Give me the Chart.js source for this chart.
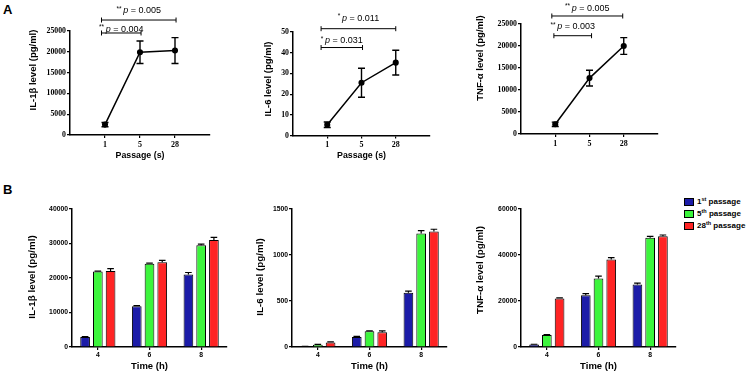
<!DOCTYPE html>
<html>
<head>
<meta charset="utf-8">
<script src="https://cdn.jsdelivr.net/npm/chart.js"></script>
<style>
    body { margin: 0; background: #fff; width: 755px; height: 374px; position: relative; overflow: hidden;
           font-family: "Liberation Sans", Arial, sans-serif; }
    .panel { position: absolute; }
    .letter { position: absolute; font-weight: bold; font-size: 13px; line-height: 13px; }
    #legend { position: absolute; left: 684px; top: 197px; font-weight: bold; font-size: 8px; }
    #legend div { height: 12px; line-height: 9px; white-space: nowrap; }
    #legend span.box { display: inline-block; width: 8px; height: 6px; border: 1px solid #000;
                       vertical-align: middle; margin-right: 3px; }
    #legend sup { font-size: 5.5px; vertical-align: 3px; line-height: 0; }
</style>
</head>
<body>
<div class="letter" style="left:3px; top:3px;">A</div>
<div class="letter" style="left:3px; top:183px;">B</div>
<div class="panel" id="boxA1"><canvas id="chartA1"></canvas></div>
<div class="panel" id="boxA2"><canvas id="chartA2"></canvas></div>
<div class="panel" id="boxA3"><canvas id="chartA3"></canvas></div>
<div class="panel" id="boxB1"><canvas id="chartB1"></canvas></div>
<div class="panel" id="boxB2"><canvas id="chartB2"></canvas></div>
<div class="panel" id="boxB3"><canvas id="chartB3"></canvas></div>
<div id="legend"></div>
<script>
// ---- panel A data: cytokine level vs passage ----
const passageTicks = ['1', '5', '28'];
const passageSlots = [1, 2, 3];

const il1bMean = [2500, 19900, 20300];
const il1bSem = [500, 2700, 3100];
const il6Mean = [5.2, 25.5, 35.2];
const il6Sem = [1.3, 7, 6];
const tnfMean = [2200, 12700, 20000];
const tnfSem = [500, 1800, 1900];

// significance (index into passageTicks)
const il1bSig = [{ from: 0, to: 1, stars: '**', p: '0.004' }, { from: 0, to: 2, stars: '**', p: '0.005' }];
const il6Sig = [{ from: 0, to: 1, stars: '*', p: '0.031' }, { from: 0, to: 2, stars: '*', p: '0.011' }];
const tnfSig = [{ from: 0, to: 1, stars: '**', p: '0.003' }, { from: 0, to: 2, stars: '**', p: '0.005' }];

// ---- panel B data: cytokine level vs time, per passage ----
const timeTicks = ['4', '6', '8'];
const passageOrdinal = ['1', '5', '28'];
const ordinalSuffix = ['st', 'th', 'th'];

const il1bP1 = [2900, 11800, 21000];
const il1bP5 = [21900, 24100, 29500];
const il1bP28 = [22000, 24600, 31000];
const il1bP1Sem = [150, 200, 600];
const il1bP5Sem = [100, 200, 300];
const il1bP28Sem = [700, 500, 800];

const il6P1 = [5, 110, 590];
const il6P5 = [25, 170, 1235];
const il6P28 = [50, 160, 1255];
const il6P1Sem = [2, 5, 18];
const il6P5Sem = [3, 6, 30];
const il6P28Sem = [5, 15, 25];

const tnfP1 = [1100, 22500, 27200];
const tnfP5 = [5200, 29800, 47500];
const tnfP28 = [21100, 38000, 48100];
const tnfP1Sem = [100, 700, 600];
const tnfP5Sem = [150, 1000, 600];
const tnfP28Sem = [250, 900, 600];

const barColors = ['#1c1ca8', '#3cf53c', '#ff2424'];

const serif = '"Liberation Serif", "Times New Roman", serif';
const sans = '"Liberation Sans", Arial, sans-serif';

// error bars drawn from dataset.errors through the y scale
const errorBars = {
    id: 'errorBars',
    afterDatasetsDraw(chart, args, opts) {
        const ctx = chart.ctx;
        const y = chart.scales.y;
        chart.data.datasets.forEach((ds, i) => {
            if(!ds.errors) return;
            chart.getDatasetMeta(i).data.forEach((el, j) => {
                const v = typeof ds.data[j] === 'object' ? ds.data[j].y : ds.data[j];
                const top = y.getPixelForValue(v + ds.errors[j]);
                const bot = opts.both ? y.getPixelForValue(v - ds.errors[j]) : el.y;
                ctx.save();
                ctx.strokeStyle = '#000';
                ctx.lineWidth = opts.width;
                ctx.beginPath();
                ctx.moveTo(el.x, bot); ctx.lineTo(el.x, top);
                ctx.moveTo(el.x - opts.cap, top); ctx.lineTo(el.x + opts.cap, top);
                if(opts.both) { ctx.moveTo(el.x - opts.cap, bot); ctx.lineTo(el.x + opts.cap, bot); }
                ctx.stroke();
                ctx.restore();
            });
        });
    }
};

// significance brackets above the line charts
const brackets = {
    id: 'brackets',
    afterDraw(chart, args, opts) {
        if(!opts.items) return;
        const { ctx, scales: { x, y } } = chart;
        opts.items.forEach(b => {
            const x0 = x.getPixelForValue(b.x0), x1 = x.getPixelForValue(b.x1);
            const py = y.getPixelForValue(b.y);
            ctx.save();
            ctx.strokeStyle = '#000';
            ctx.lineWidth = 1;
            ctx.beginPath();
            ctx.moveTo(x0, py); ctx.lineTo(x1, py);
            ctx.moveTo(x0, py - 2.5); ctx.lineTo(x0, py + 2.5);
            ctx.moveTo(x1, py - 2.5); ctx.lineTo(x1, py + 2.5);
            ctx.stroke();

            const starFont = '6.5px ' + sans, pFont = 'italic 9px ' + sans, restFont = '9px ' + sans;
            const rest = ' = ' + b.p;
            ctx.font = starFont; const ws = ctx.measureText(b.stars + ' ').width;
            ctx.font = pFont; const wp = ctx.measureText('p').width;
            ctx.font = restFont; const wr = ctx.measureText(rest).width;
            let tx = (x0 + x1) / 2 - (ws + wp + wr) / 2;
            const base = py - b.gap;
            ctx.fillStyle = '#000';
            ctx.textBaseline = 'alphabetic';
            ctx.textAlign = 'left';
            ctx.font = starFont; ctx.fillText(b.stars, tx, base - 2.5); tx += ws;
            ctx.font = pFont; ctx.fillText('p', tx, base); tx += wp;
            ctx.font = restFont; ctx.fillText(rest, tx, base);
            ctx.restore();
        });
    }
};

// axis titles at fixed spots (GraphPad style)
const axisTitles = {
    id: 'axisTitles',
    afterDraw(chart, args, opts) {
        const ctx = chart.ctx, a = chart.chartArea;
        ctx.save();
        ctx.fillStyle = '#000';
        ctx.textAlign = 'center';
        ctx.textBaseline = 'middle';
        if(opts.x) {
            ctx.font = 'bold ' + opts.x.size + 'px ' + sans;
            ctx.fillText(opts.x.text, (a.left + a.right) / 2, opts.x.y);
        }
        if(opts.y) {
            ctx.font = 'bold ' + opts.y.size + 'px ' + sans;
            ctx.translate(opts.y.x, opts.y.y);
            ctx.rotate(-Math.PI / 2);
            ctx.fillText(opts.y.text, 0, 0);
        }
        ctx.restore();
    }
};

function placeBox(id, box) {
    const el = document.getElementById(id);
    el.style.left = box.l + 'px';
    el.style.top = box.t + 'px';
    el.style.width = box.w + 'px';
    el.style.height = box.h + 'px';
}

function axisStyle() {
    return {
        grid: { drawOnChartArea: false, drawTicks: true, tickLength: 3, color: '#000', lineWidth: 1.2 },
        border: { display: true, color: '#000', width: 1.5 }
    };
}

function makeLineChart(n, box, area, mean, sem, sig, geo, yMax, yStep, yTitle, xTitle) {
    placeBox('box' + n, box);
    const items = sig.map((s, i) => ({
        x0: passageSlots[s.from] - geo[i].padL,
        x1: passageSlots[s.to] + geo[i].padR,
        y: geo[i].y, gap: geo[i].gap, stars: s.stars, p: s.p
    }));
    new Chart(document.getElementById('chart' + n), {
        type: 'line',
        data: {
            datasets: [{
                data: passageSlots.map((p, i) => ({ x: p, y: mean[i] })),
                errors: sem,
                borderColor: '#000', borderWidth: 1.5,
                pointRadius: 2.3, pointBackgroundColor: '#000', pointBorderColor: '#000',
                tension: 0
            }]
        },
        options: {
            responsive: true, maintainAspectRatio: false, animation: false,
            layout: { padding: { left: 0, top: area.t - box.t, right: box.l + box.w - area.r, bottom: 0 } },
            scales: {
                x: {
                    type: 'linear', min: 0, max: 4, ...axisStyle(),
                    afterBuildTicks: s => { s.ticks = passageSlots.map(v => ({ value: v })); },
                    afterFit: s => { s.height = box.t + box.h - area.b; },
                    ticks: { autoSkip: false, padding: 2, color: '#000',
                             font: { family: serif, size: 8, weight: 'bold' },
                             callback: (v, i) => passageTicks[i] }
                },
                y: {
                    min: 0, max: yMax, ...axisStyle(),
                    afterFit: s => { s.width = area.l - box.l; },
                    ticks: { stepSize: yStep, padding: 1, color: '#000',
                             font: { family: serif, size: 7.8, weight: 'bold' },
                             callback: v => String(v) }
                }
            },
            plugins: {
                legend: { display: false }, tooltip: { enabled: false },
                errorBars: { both: true, cap: 3.5, width: 1.4 },
                brackets: { items: items },
                axisTitles: {
                    y: { text: yTitle.text, x: yTitle.x - box.l, y: yTitle.y - box.t, size: 9.5 },
                    x: xTitle ? { text: xTitle.text, y: xTitle.y - box.t, size: 8.8 } : null
                }
            }
        },
        plugins: [errorBars, brackets, axisTitles]
    });
}

function makeBarChart(n, box, area, series, sems, yMax, yStep, yTitle) {
    placeBox('box' + n, box);
    new Chart(document.getElementById('chart' + n), {
        type: 'bar',
        data: {
            labels: timeTicks,
            datasets: series.map((s, i) => ({
                label: passageOrdinal[i] + ordinalSuffix[i] + ' passage',
                data: s, errors: sems[i],
                backgroundColor: barColors[i], borderColor: '#000', borderWidth: 1,
                barPercentage: 0.76, categoryPercentage: 0.74
            }))
        },
        options: {
            responsive: true, maintainAspectRatio: false, animation: false,
            layout: { padding: { left: 0, top: area.t - box.t, right: box.l + box.w - area.r, bottom: 0 } },
            scales: {
                x: {
                    ...axisStyle(),
                    grid: { drawOnChartArea: false, drawTicks: true, tickLength: 3, color: '#000', lineWidth: 1.2, offset: false },
                    afterFit: s => { s.height = box.t + box.h - area.b; },
                    ticks: { padding: 1, color: '#000', font: { family: sans, size: 6.8, weight: 'bold' } }
                },
                y: {
                    min: 0, max: yMax, ...axisStyle(),
                    afterFit: s => { s.width = area.l - box.l; },
                    ticks: { stepSize: yStep, padding: 1, color: '#000',
                             font: { family: sans, size: 6.8, weight: 'bold' },
                             callback: v => String(v) }
                }
            },
            plugins: {
                legend: { display: false }, tooltip: { enabled: false },
                errorBars: { both: false, cap: 3.3, width: 1.2 },
                axisTitles: {
                    y: { text: yTitle.text, x: yTitle.x - box.l, y: yTitle.y - box.t, size: 9.8 },
                    x: { text: 'Time (h)', y: 366 - box.t, size: 9.5 }
                }
            }
        },
        plugins: [errorBars, axisTitles]
    });
}

makeLineChart('A1', { l: 0, t: 0, w: 250, h: 172 }, { l: 70, t: 31, r: 210, b: 135 },
    il1bMean, il1bSem, il1bSig,
    [{ y: 24520, padL: 0.1, padR: 0.03, gap: 1 }, { y: 27640, padL: 0.1, padR: 0.03, gap: 7 }],
    25000, 5000, { text: 'IL-1\u03b2 level (pg/ml)', x: 33, y: 70 }, { text: 'Passage (s)', y: 156 });

makeLineChart('A2', { l: 250, t: 0, w: 220, h: 172 }, { l: 293, t: 32, r: 430, b: 135.5 },
    il6Mean, il6Sem, il6Sig,
    [{ y: 42.5, padL: 0.18, padR: 0.03, gap: 4.4 }, { y: 51.6, padL: 0.18, padR: 0.0, gap: 8 }],
    50, 10, { text: 'IL-6 level (pg/ml)', x: 268, y: 79 }, { text: 'Passage (s)', y: 156 });

makeLineChart('A3', { l: 470, t: 0, w: 200, h: 172 }, { l: 521, t: 24, r: 658, b: 134 },
    tnfMean, tnfSem, tnfSig,
    [{ y: 22340, padL: 0.04, padR: 0.06, gap: 6.7 }, { y: 26820, padL: 0.1, padR: -0.03, gap: 5.3 }],
    25000, 5000, { text: 'TNF-\u03b1 level (pg/ml)', x: 480, y: 58 }, null);

makeBarChart('B1', { l: 0, t: 178, w: 250, h: 196 }, { l: 72, t: 209, r: 227, b: 347 },
    [il1bP1, il1bP5, il1bP28], [il1bP1Sem, il1bP5Sem, il1bP28Sem],
    40000, 10000, { text: 'IL-1\u03b2 level (pg/ml)', x: 32, y: 277 });

makeBarChart('B2', { l: 250, t: 178, w: 220, h: 196 }, { l: 292, t: 209, r: 447, b: 347 },
    [il6P1, il6P5, il6P28], [il6P1Sem, il6P5Sem, il6P28Sem],
    1500, 500, { text: 'IL-6 level (pg/ml)', x: 260, y: 277 });

makeBarChart('B3', { l: 470, t: 178, w: 210, h: 196 }, { l: 521, t: 209, r: 676, b: 347 },
    [tnfP1, tnfP5, tnfP28], [tnfP1Sem, tnfP5Sem, tnfP28Sem],
    60000, 20000, { text: 'TNF-\u03b1 level (pg/ml)', x: 480, y: 270 });

// legend for the bar panels
document.getElementById('legend').innerHTML = passageOrdinal.map((p, i) =>
    `<div><span class="box" style="background:${barColors[i]}"></span>${p}<sup>${ordinalSuffix[i]}</sup> passage</div>`
).join('');
</script>
</body>
</html>
